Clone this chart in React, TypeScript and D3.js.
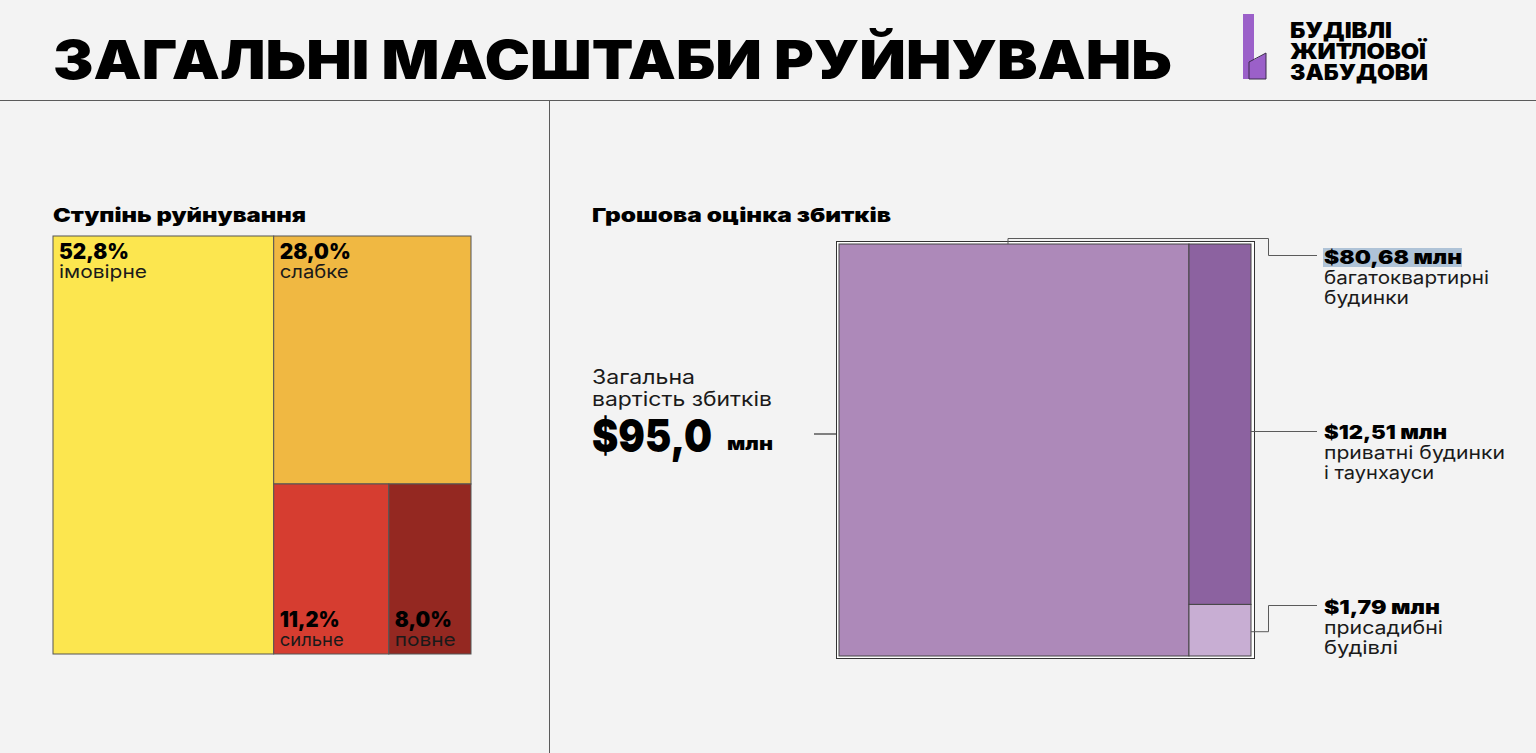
import React from "react";
import * as d3 from "d3";

const W = 1536;
const H = 753;

const titleText = "ЗАГАЛЬНІ МАСШТАБИ РУЙНУВАНЬ";
const logoLines = ["БУДІВЛІ", "ЖИТЛОВОЇ", "ЗАБУДОВИ"];

const severityTitle = "Ступінь руйнування";
const severityLabels = ["імовірне", "слабке", "сильне", "повне"];
const severityValues = [52.8, 28.0, 11.2, 8.0];
const severityColors = ["#fce64f", "#f0b842", "#d63d30", "#942821"];

const damageTitle = "Грошова оцінка збитків";
const damageValues = [80.68, 12.51, 1.79];
const damageLabels = [
  ["багатоквартирні", "будинки"],
  ["приватні будинки", "і таунхауси"],
  ["присадибні", "будівлі"],
];
const damageColors = ["#ad89b9", "#8c62a0", "#c8aed3"];
const totalDamage = 95.0;
const totalLabel = ["Загальна", "вартість збитків"];

const FONT = "Inter, 'Noto Sans', sans-serif";
const LINE = "#5a5a5a";

// rendered widths of the wide geometric font used in the reference
const sevPctW = [70, 71, 60, 57];
const sevLabW = [88, 69, 64, 61];
const dmgValW = [138, 123, 116];
const dmgLabW = [
  [165, 85],
  [181, 110],
  [119, 74],
];

type Node = { idx?: number; value?: number; children?: Node[] };

function chain(values: number[], start = 0): Node {
  if (start === values.length - 1) return { idx: start, value: values[start] };
  return {
    children: [{ idx: start, value: values[start] }, chain(values, start + 1)],
  };
}

function layout(values: number[], size: number) {
  const root = d3
    .hierarchy<Node>(chain(values))
    .sum((d) => (d.children ? 0 : d.value || 0));
  d3.treemap<Node>().tile(d3.treemapSliceDice).size([size, size]).round(false)(root);
  return (root.leaves() as d3.HierarchyRectangularNode<Node>[]).sort(
    (a, b) => (a.data.idx as number) - (b.data.idx as number)
  );
}

const fmt = (v: number, d: number) => v.toFixed(d).replace(".", ",");

function T(props: {
  x: number;
  y: number;
  size: number;
  w?: number;
  bold?: boolean;
  fill?: string;
  children: React.ReactNode;
}) {
  const { x, y, size, w, bold, fill, children } = props;
  return (
    <text
      x={x}
      y={y}
      fontFamily={FONT}
      fontWeight={bold ? 900 : 400}
      fontSize={size}
      fill={fill || (bold ? "#000" : "#1a1a1a")}
      textLength={w}
      lengthAdjust={w ? "spacingAndGlyphs" : undefined}
    >
      {children}
    </text>
  );
}

export default function App() {
  const LX = 53, LY = 236, LS = 418;
  const sev = layout(severityValues, LS);

  const RX = 839, RY = 244, RS = 412;
  const dmg = layout(damageValues, RS);

  const labelX = 1324;
  const labelY = [264, 439, 614];

  const big = dmg[0], mid = dmg[1], small = dmg[2];
  const bigTopX = RX + (big.x0 + big.x1) / 2 - 6;
  const connectors = [
    `M${bigTopX},${RY} V238.5 H1268.5 V${labelY[0] - 8.5} H1317`,
    `M${RX + mid.x1},${labelY[1] - 7.5} H1317`,
    `M${RX + small.x1},${RY + (small.y0 + small.y1) / 2 + 1.5} H1268.5 V${labelY[2] - 8.5} H1317`,
  ];

  return (
    <div style={{ position: "absolute", left: 0, top: 0 }}>
      <svg width={W} height={H} style={{ display: "block", background: "#f3f3f3" }}>
        <rect x={0} y={0} width={W} height={H} fill="#f3f3f3" />
        <T x={53} y={79} size={54} w={1119} bold>
          {titleText}
        </T>
        {/* logo */}
        <polygon points="1243,14 1254,14 1254,60 1266,53 1266,79 1243,79" fill="#9b60c9" />
        <polygon
          points="1249,62 1266,53 1266,79 1249,79"
          fill="none"
          stroke="#3a2a4a"
          strokeWidth={1}
        />
        {logoLines.map((t, i) => (
          <T key={t} x={1290} y={38 + i * 21} size={22} w={[102, 136, 138][i]} bold>
            {t}
          </T>
        ))}
        <line x1={0} x2={W} y1={100.5} y2={100.5} stroke={LINE} strokeWidth={1} />
        <line x1={549.5} x2={549.5} y1={100} y2={H} stroke={LINE} strokeWidth={1} />

        {/* left section */}
        <T x={53} y={222} size={19} w={253} bold>
          {severityTitle}
        </T>
        <g transform={`translate(${LX},${LY})`}>
          {sev.map((n, i) => (
            <rect
              key={i}
              x={n.x0}
              y={n.y0}
              width={n.x1 - n.x0}
              height={n.y1 - n.y0}
              fill={severityColors[i]}
              stroke="#555"
              strokeWidth={1}
            />
          ))}
          {sev.map((n, i) => {
            const bottom = n.y0 > 0;
            const py = bottom ? n.y1 - 27 : n.y0 + 23;
            return (
              <g key={"l" + i}>
                <T x={n.x0 + 6} y={py} size={21} w={sevPctW[i]} bold>
                  {fmt(severityValues[i], 1)}%
                </T>
                <T x={n.x0 + 6} y={py + 19} size={18} w={sevLabW[i]}>
                  {severityLabels[i]}
                </T>
              </g>
            );
          })}
        </g>

        {/* right section */}
        <T x={592} y={222} size={19} w={299} bold>
          {damageTitle}
        </T>
        <rect x={836.5} y={241.5} width={418} height={417} fill="#fff" stroke="#333" strokeWidth={1} />
        <g transform={`translate(${RX},${RY})`}>
          {dmg.map((n, i) => (
            <rect
              key={i}
              x={n.x0}
              y={n.y0}
              width={n.x1 - n.x0}
              height={n.y1 - n.y0}
              fill={damageColors[i]}
              stroke="#444"
              strokeWidth={1}
            />
          ))}
        </g>
        {connectors.map((d, i) => (
          <path key={i} d={d} fill="none" stroke={LINE} strokeWidth={1} />
        ))}
        <rect x={1323} y={248} width={139} height={19} fill="#afc3d7" />
        {damageValues.map((v, i) => (
          <g key={"d" + i}>
            <T x={labelX} y={labelY[i]} size={19} w={dmgValW[i]} bold>
              ${fmt(v, 2)} млн
            </T>
            {damageLabels[i].map((t, j) => (
              <T key={j} x={labelX} y={labelY[i] + 20 + j * 19.5} size={18} w={dmgLabW[i][j]}>
                {t}
              </T>
            ))}
          </g>
        ))}

        {/* total */}
        <path d="M814,434 H836" stroke="#333" strokeWidth={1.2} />
        {totalLabel.map((t, j) => (
          <T key={t} x={592} y={384 + j * 22} size={20} w={[103, 180][j]}>
            {t}
          </T>
        ))}
        <T x={592} y={452} size={46} w={120} bold>
          ${fmt(totalDamage, 1)}
        </T>
        <T x={727} y={450} size={18} w={46} bold>
          млн
        </T>
      </svg>
    </div>
  );
}
